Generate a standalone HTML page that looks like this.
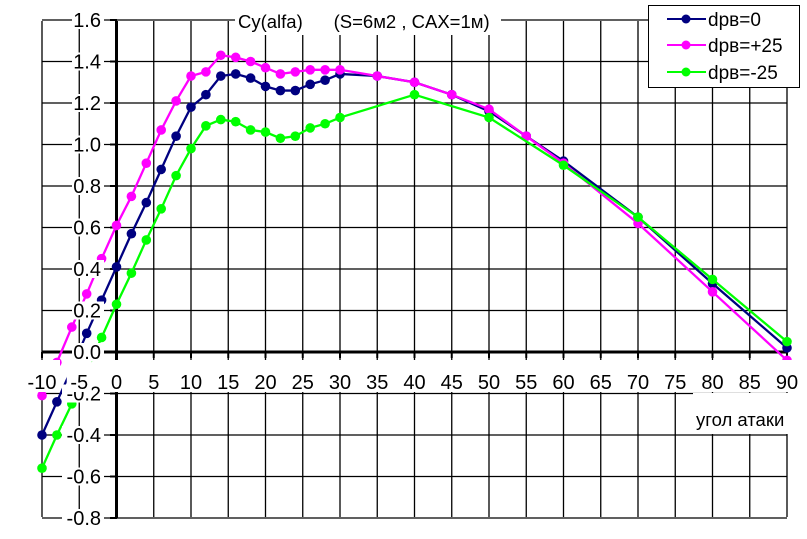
<!DOCTYPE html>
<html><head><meta charset="utf-8"><style>
html,body{margin:0;padding:0;background:#fff;}
svg{display:block;font-family:"Liberation Sans",Arial,sans-serif;}
</style></head><body>
<svg id="s" width="807" height="539" xmlns="http://www.w3.org/2000/svg"></svg>
<script>
const s=document.getElementById('s');
const X=v=>116.5+v*7.45, Y=v=>352-v*207.5;
let h='';
for(let v=-10;v<=90;v+=5){h+=`<line x1="${X(v)}" y1="21" x2="${X(v)}" y2="517" stroke="#000" stroke-width="1.3"/>`;}
for(let i=-4;i<=8;i++){const y=Y(i*0.2);h+=`<line x1="42" y1="${y}" x2="${X(90)}" y2="${y}" stroke="#000" stroke-width="1.3"/>`;}
h+=`<line x1="116.5" y1="21" x2="116.5" y2="518" stroke="#000" stroke-width="3"/>`;
h+=`<line x1="42" y1="352" x2="${X(90)}" y2="352" stroke="#000" stroke-width="3"/>`;
for(let v=-10;v<=90;v+=5){h+=`<line x1="${X(v)}" y1="352" x2="${X(v)}" y2="358" stroke="#000" stroke-width="2"/>`;}
for(let i=-4;i<=8;i++){const y=Y(i*0.2);h+=`<line x1="110" y1="${y}" x2="117" y2="${y}" stroke="#000" stroke-width="2"/>`;}
const series=[
['#000080',[[-10,-0.40],[-8,-0.24],[-6,-0.08],[-4,0.09],[-2,0.25],[0,0.41],[2,0.57],[4,0.72],[6,0.88],[8,1.04],[10,1.18],[12,1.24],[14,1.33],[16,1.34],[18,1.32],[20,1.28],[22,1.26],[24,1.26],[26,1.29],[28,1.31],[30,1.34],[35,1.33],[40,1.30],[45,1.24],[50,1.16],[55,1.04],[60,0.92],[70,0.65],[80,0.33],[90,0.02]]],
['#ff00ff',[[-10,-0.21],[-8,-0.05],[-6,0.12],[-4,0.28],[-2,0.45],[0,0.61],[2,0.75],[4,0.91],[6,1.07],[8,1.21],[10,1.33],[12,1.35],[14,1.43],[16,1.42],[18,1.40],[20,1.37],[22,1.34],[24,1.35],[26,1.36],[28,1.36],[30,1.36],[35,1.33],[40,1.30],[45,1.24],[50,1.17],[55,1.04],[60,0.91],[70,0.62],[80,0.29],[90,-0.04]]],
['#00ff00',[[-10,-0.56],[-8,-0.40],[-6,-0.25],[-4,-0.09],[-2,0.07],[0,0.23],[2,0.38],[4,0.54],[6,0.69],[8,0.85],[10,0.98],[12,1.09],[14,1.12],[16,1.11],[18,1.07],[20,1.06],[22,1.03],[24,1.04],[26,1.08],[28,1.10],[30,1.13],[40,1.24],[50,1.13],[60,0.90],[70,0.65],[80,0.35],[90,0.05]]]
];
for(const [c,d] of series){
 h+=`<polyline fill="none" stroke="${c}" stroke-width="2.3" points="${d.map(p=>X(p[0])+','+Y(p[1])).join(' ')}"/>`;
 for(const p of d)h+=`<circle cx="${X(p[0])}" cy="${Y(p[1])}" r="4.8" fill="${c}"/>`;
}
for(let i=-4;i<=8;i++){const v=i*0.2,y=Y(v);const t=(i<0?'-':'')+Math.abs(v).toFixed(1);
 const w=t.length*10;h+=`<rect x="${102-w}" y="${y-9}" width="${w+2}" height="18" fill="#fff"/>`;
 h+=`<text x="101" y="${y+7}" font-size="20" text-anchor="end">${t}</text>`;}
for(let v=-10;v<=90;v+=5){const x=X(v);const w=String(v).length*11+3;
 h+=`<rect x="${x-w/2}" y="360" width="${w}" height="32" fill="#fff"/>`;
 h+=`<text x="${x}" y="389" font-size="20" text-anchor="middle">${v}</text>`;}
h+=`<rect x="235" y="7" width="266" height="28" fill="#fff"/>`;
h+=`<text x="238" y="28" font-size="18.5" xml:space="preserve">Cy(alfa)      (S=6м2 , CAX=1м)</text>`;
h+=`<rect x="693" y="393" width="97" height="41" fill="#fff"/>`;
h+=`<text x="696" y="426" font-size="18.5">угол атаки</text>`;
h+=`<rect x="648.5" y="5.5" width="151" height="82" fill="#fff" stroke="#000" stroke-width="1"/>`;
const lg=[['#000080','dpв=0',19],['#ff00ff','dpв=+25',45],['#00ff00','dpв=-25',72]];
for(const [c,t,y] of lg){h+=`<line x1="667" y1="${y}" x2="706" y2="${y}" stroke="${c}" stroke-width="2"/><circle cx="686" cy="${y}" r="4.5" fill="${c}"/><text x="708" y="${y+7}" font-size="19">${t}</text>`;}
s.innerHTML=h;
</script>
</body></html>
